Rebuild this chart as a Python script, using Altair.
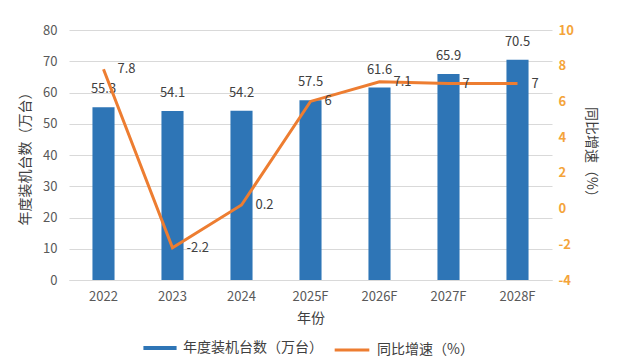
import altair as alt
import pandas as pd

years = ["2022", "2023", "2024", "2025F", "2026F", "2027F", "2028F"]
installs = [55.3, 54.1, 54.2, 57.5, 61.6, 65.9, 70.5]
growth = [7.8, -2.2, 0.2, 6, 7.1, 7, 7]
growth_text = ["7.8", "-2.2", "0.2", "6", "7.1", "7", "7"]

bar_name = "年度装机台数（万台）"
line_name = "同比增速（%）"

df = pd.DataFrame({"year": years, "installs": installs, "growth": growth,
                   "gtext": growth_text, "s1": bar_name, "s2": line_name})

FONT = "Noto Sans CJK SC"
BLUE = "#2E75B6"
ORANGE = "#ED7D31"

x = alt.X("year:N", sort=years, title="年份",
          scale=alt.Scale(paddingInner=0.68, paddingOuter=0.34),
          axis=alt.Axis(labelAngle=0, ticks=False, domainColor="#d9d9d9",
                        labelColor="#595959", labelFontSize=13, labelPadding=10,
                        titleFontSize=14, titleColor="#404040", titlePadding=8,
                        titleFontWeight="normal", labelFont=FONT, titleFont=FONT))

yl = alt.Y("installs:Q", title="年度装机台数（万台）",
           scale=alt.Scale(domain=[0, 80], nice=False),
           axis=alt.Axis(values=list(range(0, 81, 10)), tickCount=9, domain=False, ticks=False,
                         labelOverlap=False,
                         gridColor="#d9d9d9", labelColor="#595959", labelFontSize=13,
                         labelPadding=12, titleFontSize=14, titleColor="#404040",
                         titleFontWeight="normal", titlePadding=10,
                         labelFont=FONT, titleFont=FONT))

bars = alt.Chart(df).mark_bar(color=BLUE).encode(
    x=x, y=yl,
    color=alt.Color("s1:N", scale=alt.Scale(domain=[bar_name], range=[BLUE]),
                    legend=alt.Legend(title=None, orient="none", legendX=74, legendY=301,
                                      symbolType="M-1,-0.12L1,-0.12L1,0.12L-1,0.12Z",
                                      symbolSize=1100, symbolStrokeWidth=0,
                                      labelFontSize=14, labelColor="#404040",
                                      labelFont=FONT, labelOffset=6))
)

bar_labels = alt.Chart(df).mark_text(dy=-18, fontSize=13, color="#404040", font=FONT).encode(
    x=x, y=yl, text=alt.Text("installs:Q", format=".1f")
)

left = alt.layer(bars, bar_labels)

yr = alt.Y("growth:Q", title="同比增速（%）",
           scale=alt.Scale(domain=[-4, 10], nice=False),
           axis=alt.Axis(values=list(range(-4, 11, 2)), tickCount=8, orient="right", domain=False,
                         labelOverlap=False, labelExpr="toString(datum.value)",
                         ticks=False, grid=False, labelColor="#F4A43A", labelFontSize=13,
                         labelFontWeight="bold", labelPadding=6, titleFontSize=14,
                         titleColor="#404040", titleFontWeight="normal", titlePadding=10,
                         labelFont=FONT, titleFont=FONT))

line = alt.Chart(df).mark_line(strokeWidth=3).encode(
    x=x, y=yr,
    stroke=alt.Stroke("s2:N", scale=alt.Scale(domain=[line_name], range=[ORANGE]),
                      legend=alt.Legend(title=None, orient="none", legendX=264, legendY=301,
                                        symbolType="stroke", symbolSize=1200,
                                        symbolStrokeWidth=3,
                                        labelFontSize=14, labelColor="#404040",
                                        labelFont=FONT, labelOffset=6))
)

line_labels = alt.Chart(df).mark_text(align="left", dx=14, fontSize=13, color="#404040",
                                      font=FONT).encode(
    x=x, y=yr, text=alt.Text("gtext:N")
)

right = alt.layer(line, line_labels)

chart = alt.layer(left, right).resolve_scale(y="independent", color="independent",
                                             stroke="independent").properties(
    width=483, height=250,
    autosize=alt.AutoSizeParams(type="none"),
    padding={"left": 69, "top": 30, "right": 67, "bottom": 83},
).configure_view(stroke=None)

chart.save("out.html", embed_options={"renderer": "svg", "actions": False})
